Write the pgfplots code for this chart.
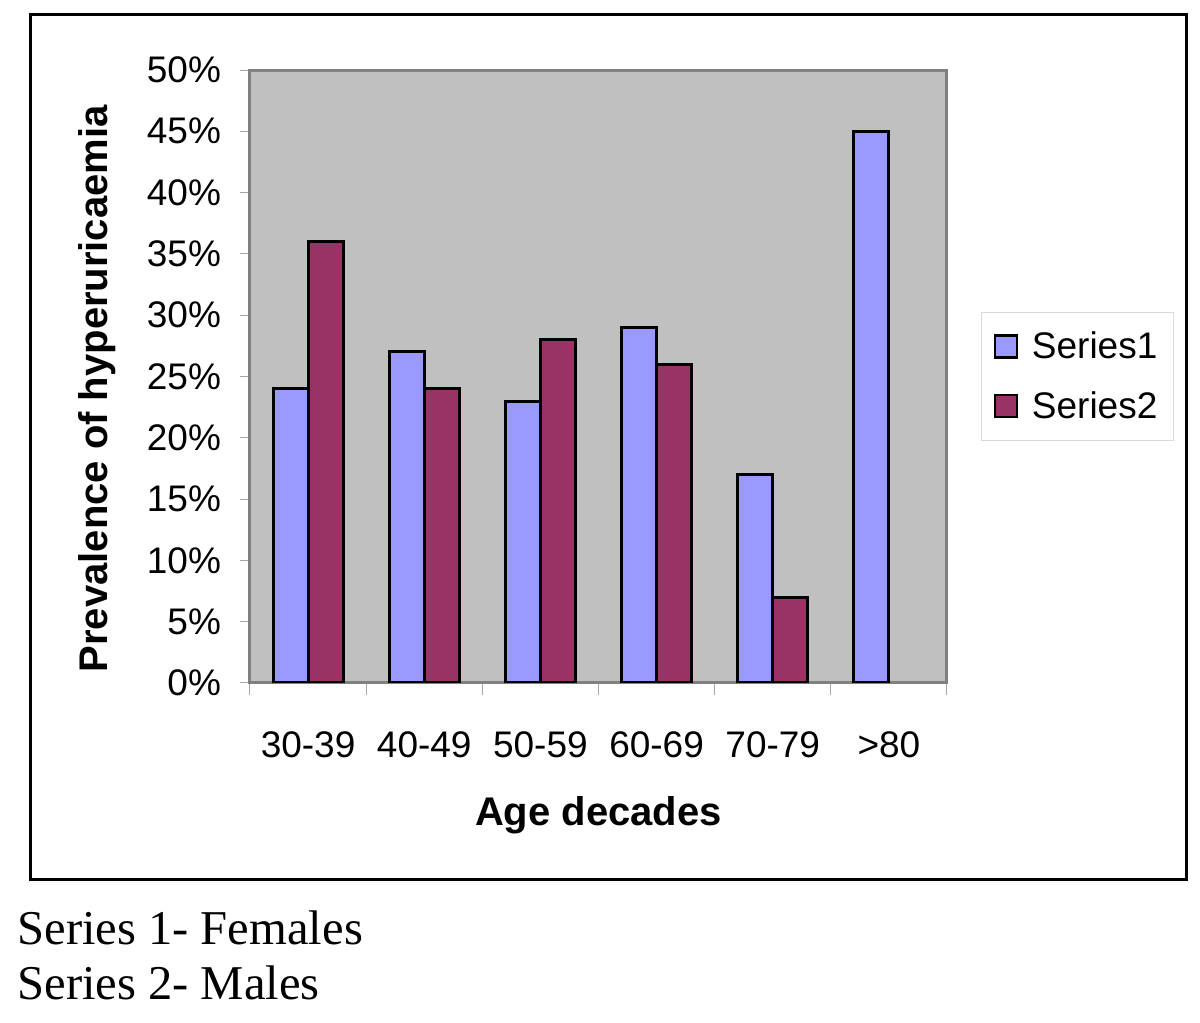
\documentclass[border=0pt]{standalone}
\usepackage{fontspec}
\setmainfont{Liberation Sans}
\newfontfamily\seriffont{Liberation Serif}
\usepackage{pgfplots}
\pgfplotsset{compat=1.18}
\definecolor{femblue}{HTML}{9999FF}
\definecolor{malered}{HTML}{993366}
\definecolor{plotgray}{HTML}{C0C0C0}
\definecolor{framegray}{HTML}{808080}
\begin{document}
\begin{tikzpicture}[x=0.5pt,y=0.5pt]
% picture measured in reference pixels, y measured from the bottom
\path[use as bounding box] (0,0) rectangle (1200,1023);
\draw[black, line width=1.5pt] (30,143) rectangle (1186,1008);
\begin{axis}[at={(125pt,170pt)}, anchor=south west, scale only axis,
  width=348.5pt, height=306.5pt,
  ybar=0pt, bar width=17.5pt,
  xmin=-0.5, xmax=5.5, ymin=0, ymax=50,
  xtick={0,1,2,3,4,5}, xticklabels={30-39,40-49,50-59,60-69,70-79,>80},
  xtick pos=bottom, ytick pos=left,
  major x tick style={draw=none},
  minor xtick={-0.5,0.5,1.5,2.5,3.5,4.5,5.5},
  minor tick length=6pt,
  minor x tick style={draw=gray!70, line width=0.5pt},
  ytick={0,5,...,50}, yticklabel={\pgfmathprintnumber{\tick}\%},
  tick align=outside, major tick length=5pt,
  y tick style={draw=gray!70, line width=0.5pt},
  /pgf/number format/assume math mode=true,
  tick label style={font=\fontsize{18.5}{20}\selectfont},
  xticklabel style={yshift=-16pt},
  yticklabel style={xshift=-6pt},
  axis line style={draw=framegray, line width=1.5pt},
  axis background/.style={fill=plotgray},
  xlabel={Age decades}, ylabel={Prevalence of hyperuricaemia},
  label style={font=\fontsize{20}{22}\selectfont\bfseries},
  xlabel style={at={(axis description cs:0.5,-0.215)}, anchor=center},
  ylabel style={at={(axis description cs:-0.22,0.48)}, anchor=center},
  legend style={at={(1.049,0.605)}, anchor=north west, draw=gray!30, fill=white,
    font=\fontsize{18.5}{20}\selectfont, row sep=11pt, column sep=5pt,
    inner xsep=6pt, inner ysep=7.5pt},
  legend image code/.code={\draw[#1, line width=1.2pt] (0pt,-5.5pt) rectangle (11pt,5.5pt);},
  legend cell align=left]
\addplot[fill=femblue, draw=black, line width=1.5pt] coordinates {(0,24) (1,27) (2,23) (3,29) (4,17) (5,45)};
\addplot[fill=malered, draw=black, line width=1.5pt] coordinates {(0,36) (1,24) (2,28) (3,26) (4,7)};
\legend{Series1, Series2}
\end{axis}
\node[anchor=base west, inner sep=0pt, font=\seriffont\fontsize{24.3}{26}\selectfont] at (17,78) {Series 1- Females};
\node[anchor=base west, inner sep=0pt, font=\seriffont\fontsize{24.3}{26}\selectfont] at (17,23) {Series 2- Males};
\end{tikzpicture}
\end{document}
